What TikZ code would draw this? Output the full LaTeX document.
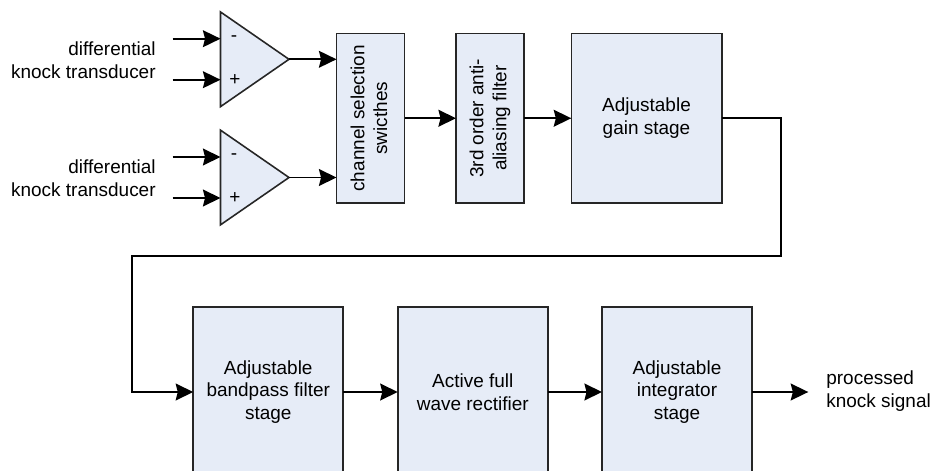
\documentclass[tikz,border=0pt]{standalone}
\usepackage{fontspec}
\setmainfont{Liberation Sans}
\usepackage{tikz}
\usetikzlibrary{arrows.meta,shapes.geometric}
\definecolor{blockfill}{HTML}{E6ECF7}
\definecolor{blockline}{HTML}{262626}
\tikzset{
  block/.style={draw=blockline, fill=blockfill, line width=0.9pt, outer sep=0pt, inner sep=0pt,
    minimum height=3.39cm, align=center, font=\fontsize{10.8}{13}\selectfont},
  amp/.style={draw=blockline, fill=blockfill, line width=0.9pt, outer sep=0pt, inner sep=0pt,
    isosceles triangle, isosceles triangle stretches, anchor=apex,
    minimum width=1.894cm, minimum height=1.37cm},
  conn/.style={-{Stealth[length=10pt,width=9.6pt,inset=1.2pt]}, draw=black, line width=1pt},
  label/.style={black, inner sep=0pt, font=\fontsize{10.8}{13}\selectfont},
  sign/.style={black, inner sep=0pt, font=\fontsize{10.8}{13}\selectfont}
}
\begin{document}
\begin{tikzpicture}
  \useasboundingbox (0,0) rectangle (18.62,9.4);
  \clip (0,0) rectangle (18.62,9.4);
  % input stage
  \node[amp] (ampA) at (5.78,8.214) {};
  \node[amp] (ampB) at (5.78,5.85) {};
  \node[sign] (ampAm) at (4.68,8.626) {-};
  \node[sign] (ampAp) at (4.70,7.806) {+};
  \node[sign] (ampBm) at (4.68,6.26) {-};
  \node[sign] (ampBp) at (4.70,5.44) {+};
  \node[label, align=right, anchor=east] (srcA) at (3.12,8.19) {differential\\knock transducer};
  \node[label, align=right, anchor=east] (srcB) at (3.12,5.83) {differential\\knock transducer};
  \coordinate (inAm) at (3.45,8.626);
  \coordinate (inAp) at (3.45,7.806);
  \coordinate (inBm) at (3.45,6.26);
  \coordinate (inBp) at (3.45,5.44);
  % blocks
  \node[block, minimum width=1.36cm] (chan) at (7.41,7.035) {};
  \node[label, rotate=90, align=center] (chantext) at (7.38,7.035) {channel selection\\swicthes};
  \node[block, minimum width=1.36cm] (aaf) at (9.8,7.035) {};
  \node[label, rotate=90, align=center] (aaftext) at (aaf) {3rd order anti-\\aliasing filter};
  \node[block, minimum width=3.008cm] (gain) at (12.93,7.035) {Adjustable\\gain stage};
  \node[block, minimum width=3.0cm] (bandpass) at (5.365,1.56) {Adjustable\\bandpass filter\\stage};
  \node[block, minimum width=3.0cm] (rect) at (9.455,1.56) {Active full\\wave rectifier};
  \node[block, minimum width=3.0cm] (integ) at (13.54,1.56) {Adjustable\\integrator\\stage};
  \node[label, align=left, anchor=west] (result) at (16.52,1.57) {processed\\knock signal};
  \coordinate (wrapR) at (15.614,4.274);
  \coordinate (wrapL) at (2.64,4.274);
  \coordinate (out) at (16.166,1.56);
  % connectors
  \draw[conn] (inAm) -- (inAm -| ampA.lower side);
  \draw[conn] (inAp) -- (inAp -| ampA.lower side);
  \draw[conn] (inBm) -- (inBm -| ampB.lower side);
  \draw[conn] (inBp) -- (inBp -| ampB.lower side);
  \draw[conn] (ampA.apex) -- (ampA.apex -| chan.west);
  \draw[conn] (ampB.apex) -- (ampB.apex -| chan.west);
  \draw[conn] (chan.east) -- (aaf.west);
  \draw[conn] (aaf.east) -- (gain.west);
  \draw[conn] (gain.east) -| (wrapR) -- (wrapL) |- (bandpass.west);
  \draw[conn] (bandpass.east) -- (rect.west);
  \draw[conn] (rect.east) -- (integ.west);
  \draw[conn] (integ.east) -- (out);
\end{tikzpicture}
\end{document}
